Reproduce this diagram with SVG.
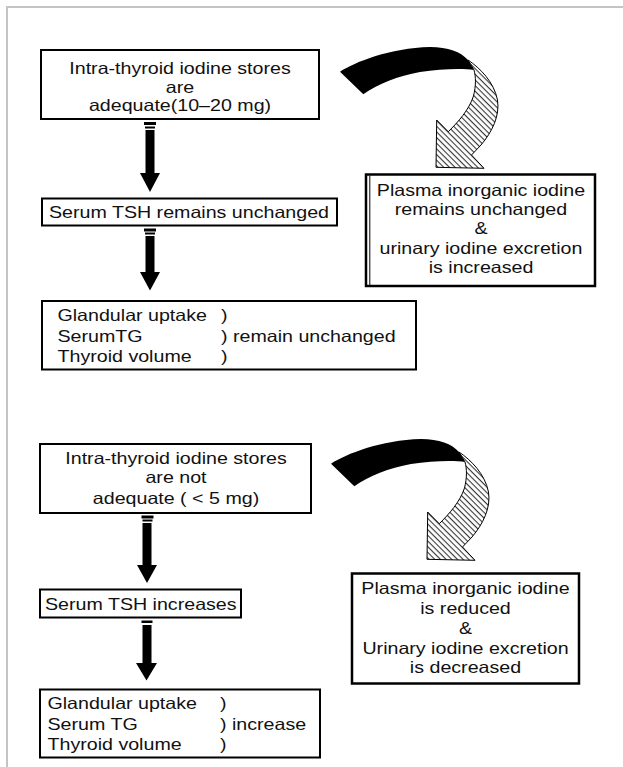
<svg xmlns="http://www.w3.org/2000/svg" xmlns:xlink="http://www.w3.org/1999/xlink" width="623" height="767" viewBox="0 0 623 767">
  <style>
    .t{font-family:"Liberation Sans",Arial,Helvetica,sans-serif;font-size:16.5px;fill:#111}
    .m{text-anchor:middle}
    .box{fill:#fff;stroke:#000;stroke-width:2}
    .box2{fill:#fff;stroke:#000;stroke-width:2.5}
    .ar{fill:#000}
    .frame{fill:none;stroke:#c4c4c4;stroke-width:2}
  </style>
  <defs>
    <pattern id="hatch" patternUnits="userSpaceOnUse" width="4" height="4" patternTransform="rotate(45)">
      <rect width="4" height="4" fill="#fff"/>
      <line x1="0" y1="0.6" x2="4" y2="0.6" stroke="#222" stroke-width="1"/>
    </pattern>
    <!-- twisted ribbon arrow: solid back, hatched front -->
    <g id="bend">
      <path d="M340,71.7 C355,62 390,48 430,47 C448,47 461,52 468,60 L474,70 C462,68 440,69 420,72 C398,76 378,84 363.3,94.3 Z" fill="#000"/>
      <path d="M468,60 C480,68 494,82 497.5,100 C500,116 492,132 481,145 L471.5,155 L484,168.3 L436,167.3 L436.7,120 L448.3,131.7 C458,122 469,110 473.5,96 C476,86 476,77 474,70 Z" fill="url(#hatch)" stroke="#000" stroke-width="1"/>
    </g>
  </defs>

  <rect width="623" height="767" fill="#fff"/>
  <path class="frame" d="M7,767 V7 H623"/>

  <!-- connectors -->
  <g id="connectors">
    <g id="arrow-stores-tsh">
      <rect class="ar" x="144" y="122" width="12" height="3"/>
      <rect class="ar" x="145" y="126.5" width="10" height="2"/>
      <rect class="ar" x="145.5" y="130" width="9" height="43.5"/>
      <polygon class="ar" points="140,173 160,173 150,192"/>
    </g>
    <g id="arrow-tsh-effects">
      <rect class="ar" x="144" y="228.5" width="12" height="3"/>
      <rect class="ar" x="145" y="232.5" width="10" height="2"/>
      <rect class="ar" x="145.5" y="236" width="9" height="36.5"/>
      <polygon class="ar" points="140,272 160,272 150,290.5"/>
    </g>
    <use id="bend-top" xlink:href="#bend"/>

    <g id="arrow-stores-tsh-low">
      <rect class="ar" x="141.5" y="515.5" width="12" height="3"/>
      <rect class="ar" x="142.5" y="519.5" width="10" height="2"/>
      <rect class="ar" x="142.5" y="523" width="9" height="42.5"/>
      <polygon class="ar" points="137,565 157,565 147,583"/>
    </g>
    <g id="arrow-tsh-effects-low">
      <rect class="ar" x="141.5" y="620.5" width="11" height="2.5"/>
      <rect class="ar" x="142.5" y="625" width="9" height="38.5"/>
      <polygon class="ar" points="136,663 157,663 146.5,680.5"/>
    </g>
    <use id="bend-bottom" xlink:href="#bend" transform="translate(-9,392)"/>
  </g>

  <!-- upper case: adequate stores -->
  <g id="stores-adequate">
    <rect class="box" x="41" y="50" width="278" height="69"/>
    <text class="t m" transform="translate(180,74) scale(1.19,1)">Intra-thyroid iodine stores</text>
    <text class="t m" transform="translate(180,92.5) scale(1.19,1)">are</text>
    <text class="t m" transform="translate(180,111) scale(1.19,1)">adequate(10–20 mg)</text>
  </g>

  <g id="tsh-unchanged">
    <rect class="box" x="42" y="198.5" width="295" height="27"/>
    <text class="t" transform="translate(49,217.5) scale(1.19,1)">Serum TSH remains unchanged</text>
  </g>

  <g id="effects-unchanged">
    <rect class="box" x="42" y="301" width="374" height="68.5"/>
    <text class="t" transform="translate(57.5,321) scale(1.19,1)">Glandular uptake</text>
    <text class="t" transform="translate(221,321) scale(1.19,1)">)</text>
    <text class="t" transform="translate(57.5,342) scale(1.19,1)">SerumTG</text>
    <text class="t" transform="translate(221,342) scale(1.19,1)">) remain unchanged</text>
    <text class="t" transform="translate(57.5,362) scale(1.19,1)">Thyroid volume</text>
    <text class="t" transform="translate(221,362) scale(1.19,1)">)</text>
  </g>

  <g id="plasma-unchanged">
    <rect class="box2" x="366" y="174.5" width="229" height="111.5"/>
    <line x1="369.8" y1="175.5" x2="369.8" y2="285" stroke="#000" stroke-width="1"/>
    <text class="t m" transform="translate(481,196) scale(1.19,1)">Plasma inorganic iodine</text>
    <text class="t m" transform="translate(481,214.5) scale(1.19,1)">remains unchanged</text>
    <text class="t m" transform="translate(481,234) scale(1.19,1)">&amp;</text>
    <text class="t m" transform="translate(481,253.5) scale(1.19,1)">urinary iodine excretion</text>
    <text class="t m" transform="translate(481,273) scale(1.19,1)">is increased</text>
  </g>

  <!-- lower case: inadequate stores -->
  <g id="stores-low">
    <rect class="box" x="40" y="444" width="271" height="69"/>
    <text class="t m" transform="translate(176,464) scale(1.19,1)">Intra-thyroid iodine stores</text>
    <text class="t m" transform="translate(176,483) scale(1.19,1)">are not</text>
    <text class="t m" transform="translate(176,503.5) scale(1.19,1)">adequate ( &lt; 5 mg)</text>
  </g>

  <g id="tsh-increases">
    <rect class="box" x="40" y="589.5" width="201" height="28"/>
    <text class="t" transform="translate(45,609.5) scale(1.19,1)">Serum TSH increases</text>
  </g>

  <g id="effects-increase">
    <rect class="box" x="40" y="689.5" width="280" height="68"/>
    <text class="t" transform="translate(47.5,709) scale(1.19,1)">Glandular uptake</text>
    <text class="t" transform="translate(220,709) scale(1.19,1)">)</text>
    <text class="t" transform="translate(47.5,730) scale(1.19,1)">Serum TG</text>
    <text class="t" transform="translate(220,730) scale(1.19,1)">) increase</text>
    <text class="t" transform="translate(47.5,750) scale(1.19,1)">Thyroid volume</text>
    <text class="t" transform="translate(220,750) scale(1.19,1)">)</text>
  </g>

  <g id="plasma-reduced">
    <rect class="box2" x="352" y="573.5" width="227" height="110"/>
    <text class="t m" transform="translate(465.5,594) scale(1.19,1)">Plasma inorganic iodine</text>
    <text class="t m" transform="translate(465.5,614) scale(1.19,1)">is reduced</text>
    <text class="t m" transform="translate(465.5,633.5) scale(1.19,1)">&amp;</text>
    <text class="t m" transform="translate(465.5,653.5) scale(1.19,1)">Urinary iodine excretion</text>
    <text class="t m" transform="translate(465.5,673) scale(1.19,1)">is decreased</text>
  </g>
</svg>
